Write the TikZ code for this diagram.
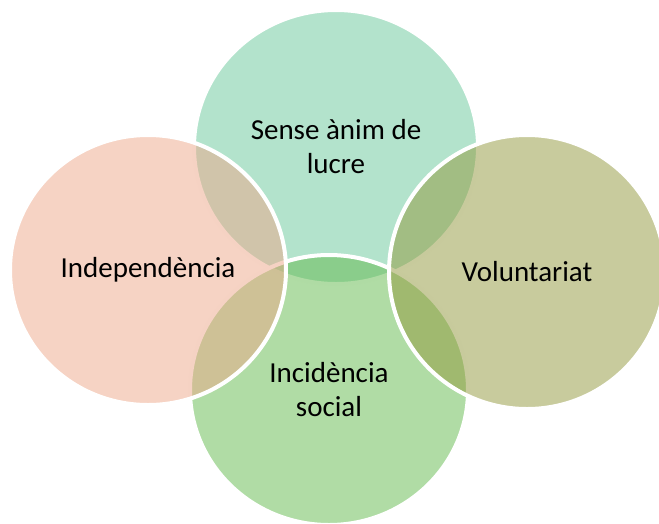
\documentclass[tikz,border=0pt]{standalone}
\usepackage{fontspec}
\setmainfont{Carlito}
\usepackage{tikz}
\usetikzlibrary{shapes.geometric}

\definecolor{lucrecol}{RGB}{103,199,153}
\definecolor{socialcol}{RGB}{97,185,75}
\definecolor{indepcol}{RGB}{237,167,137}
\definecolor{volcol}{RGB}{145,151,59}

\begin{document}
\begin{tikzpicture}[
            x=1pt, y=-1pt,
            venn/.style={ellipse, draw=white, line width=4pt, fill opacity=0.5,
                text opacity=1, inner sep=0pt, align=center,
                font=\fontsize{29}{34}\selectfont},
        ]
        \useasboundingbox (0,0) rectangle (659,523);

        % Draw upper and lower sets %
        \node[venn, fill=lucrecol, minimum width=284pt, minimum height=274pt] (lucre) at (336,147) {Sense ànim de\\lucre};
        \node[venn, fill=socialcol, minimum width=278pt, minimum height=270pt] (social) at (329,390) {Incidència\\social};

        % Draw side sets %
        \node[venn, fill=indepcol, minimum width=276pt, minimum height=270pt] (indep) at (148,270) {Independència};
        \node[venn, fill=volcol, minimum width=276pt, minimum height=274pt] (volunt) at (527,272) {Voluntariat};
        \end{tikzpicture}
\end{document}
